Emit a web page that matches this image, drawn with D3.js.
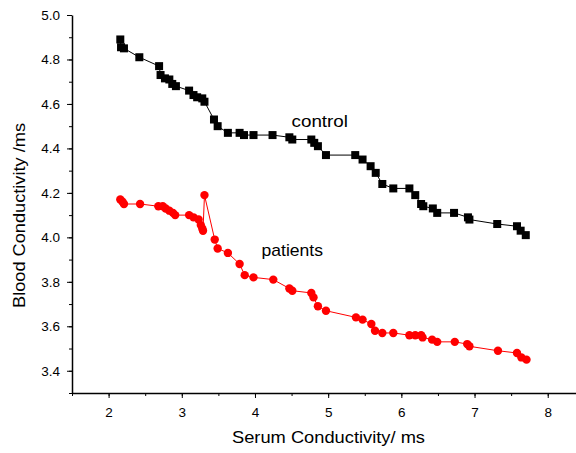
<!DOCTYPE html>
<html>
<head>
<meta charset="utf-8">
<script src="https://cdn.jsdelivr.net/npm/d3@7"></script>
<style>
  body { margin: 0; background: #fff; }
  svg { font-family: "Liberation Sans", Arial, sans-serif; }
  .axis path, .axis line { stroke: #000; }
  .axis text { font-size: 13.5px; fill: #000; }
</style>
</head>
<body>
<svg id="chart" width="576" height="453"></svg>
<script>
// serum conductivity (x) vs blood conductivity (y)
const controlX = [2.16, 2.17, 2.21, 2.42, 2.69, 2.71, 2.77, 2.83, 2.87, 2.92,
  3.10, 3.16, 3.21, 3.28, 3.31, 3.44, 3.49, 3.63, 3.79, 3.85,
  3.98, 4.24, 4.47, 4.51, 4.77, 4.81, 4.86, 4.97, 5.37, 5.47,
  5.58, 5.65, 5.74, 5.89, 6.11, 6.19, 6.27, 6.30, 6.43, 6.49,
  6.72, 6.91, 6.93, 7.31, 7.58, 7.63, 7.70];
const controlY = [4.89, 4.855, 4.85, 4.81, 4.77, 4.73, 4.715, 4.71, 4.69, 4.68,
  4.66, 4.64, 4.63, 4.625, 4.61, 4.53, 4.50, 4.47, 4.47, 4.46,
  4.46, 4.46, 4.45, 4.44, 4.44, 4.425, 4.41, 4.37, 4.37, 4.35,
  4.32, 4.29, 4.24, 4.22, 4.22, 4.19, 4.15, 4.14, 4.13, 4.11,
  4.11, 4.09, 4.08, 4.06, 4.05, 4.03, 4.01];

const patientX = [2.16, 2.19, 2.21, 2.43, 2.68, 2.74, 2.78, 2.83, 2.88, 2.91,
  3.10, 3.16, 3.23, 3.26, 3.28, 3.29, 3.31, 3.45, 3.49, 3.63,
  3.79, 3.86, 3.98, 4.25, 4.47, 4.51, 4.77, 4.80, 4.86, 4.97,
  5.38, 5.47, 5.59, 5.64, 5.74, 5.89, 6.11, 6.19, 6.27, 6.29,
  6.42, 6.49, 6.73, 6.90, 6.93, 7.32, 7.58, 7.64, 7.71];
const patientY = [4.17, 4.16, 4.15, 4.15, 4.14, 4.14, 4.13, 4.12, 4.11, 4.10,
  4.10, 4.09, 4.08, 4.055, 4.04, 4.03, 4.19, 3.99, 3.95, 3.93,
  3.88, 3.83, 3.82, 3.81, 3.77, 3.76, 3.75, 3.73, 3.69, 3.67,
  3.64, 3.63, 3.61, 3.58, 3.57, 3.57, 3.56, 3.56, 3.56, 3.55,
  3.54, 3.53, 3.53, 3.52, 3.51, 3.49, 3.48, 3.46, 3.45];

const xTicks = [2, 3, 4, 5, 6, 7, 8];
const yTicks = [3.4, 3.6, 3.8, 4.0, 4.2, 4.4, 4.6, 4.8, 5.0];

const svg = d3.select('#chart');

const xScale = d3.scaleLinear().domain([1.5, 8.4]).range([72, 577]);
const yScale = d3.scaleLinear().domain([3.3, 5.0]).range([393, 15]);

const control = controlX.map((x, i) => ({ x: x, y: controlY[i] }));
const patients = patientX.map((x, i) => ({ x: x, y: patientY[i] }));

// minor ticks first, majors on top
svg.append('g')
  .attr('class', 'axis')
  .attr('transform', 'translate(0,393)')
  .call(d3.axisBottom(xScale)
    .tickValues(d3.range(1.5, 8.4, 0.5))
    .tickSize(3).tickSizeOuter(0).tickFormat(''))
  .call(g => g.select('.domain').remove());

svg.append('g')
  .attr('class', 'axis')
  .attr('transform', 'translate(72,0)')
  .call(d3.axisLeft(yScale)
    .tickValues(d3.range(3.3, 5.01, 0.1))
    .tickSize(3).tickSizeOuter(0).tickFormat(''))
  .call(g => g.select('.domain').remove());

svg.append('g')
  .attr('class', 'axis')
  .attr('transform', 'translate(0,393)')
  .call(d3.axisBottom(xScale)
    .tickValues(xTicks)
    .tickSize(5).tickSizeOuter(0).tickPadding(9)
    .tickFormat(d3.format('d')))
  .call(g => g.select('.domain').attr('stroke-width', 1.5));

svg.append('g')
  .attr('class', 'axis')
  .attr('transform', 'translate(72,0)')
  .call(d3.axisLeft(yScale)
    .tickValues(yTicks)
    .tickSize(5).tickSizeOuter(0).tickPadding(7)
    .tickFormat(d3.format('.1f')))
  .call(g => g.select('.domain').attr('stroke-width', 1.5));

const line = d3.line().x(d => xScale(d.x)).y(d => yScale(d.y));

svg.append('path')
  .datum(control)
  .attr('d', line)
  .attr('fill', 'none')
  .attr('stroke', '#000')
  .attr('stroke-width', 1);

svg.append('path')
  .datum(patients)
  .attr('d', line)
  .attr('fill', 'none')
  .attr('stroke', '#ff0000')
  .attr('stroke-width', 1);

svg.selectAll('rect.ctrl')
  .data(control)
  .join('rect')
  .attr('class', 'ctrl')
  .attr('x', d => xScale(d.x) - 4)
  .attr('y', d => yScale(d.y) - 4)
  .attr('width', 8)
  .attr('height', 8)
  .attr('fill', '#000');

svg.selectAll('circle.pat')
  .data(patients)
  .join('circle')
  .attr('class', 'pat')
  .attr('cx', d => xScale(d.x))
  .attr('cy', d => yScale(d.y))
  .attr('r', 4.2)
  .attr('fill', '#ff0000');

// series labels
svg.append('text')
  .attr('x', 291.5).attr('y', 127)
  .attr('font-size', 17)
  .attr('textLength', 56.5).attr('lengthAdjust', 'spacingAndGlyphs')
  .text('control');

svg.append('text')
  .attr('x', 261.5).attr('y', 256)
  .attr('font-size', 17)
  .attr('textLength', 61.5).attr('lengthAdjust', 'spacingAndGlyphs')
  .text('patients');

// axis titles
svg.append('text')
  .attr('x', 232).attr('y', 443)
  .attr('font-size', 17)
  .attr('textLength', 193).attr('lengthAdjust', 'spacingAndGlyphs')
  .text('Serum Conductivity/ ms');

svg.append('text')
  .attr('transform', 'translate(25,308) rotate(-90)')
  .attr('font-size', 17)
  .attr('textLength', 185).attr('lengthAdjust', 'spacingAndGlyphs')
  .text('Blood Conductivity /ms');
</script>
</body>
</html>
